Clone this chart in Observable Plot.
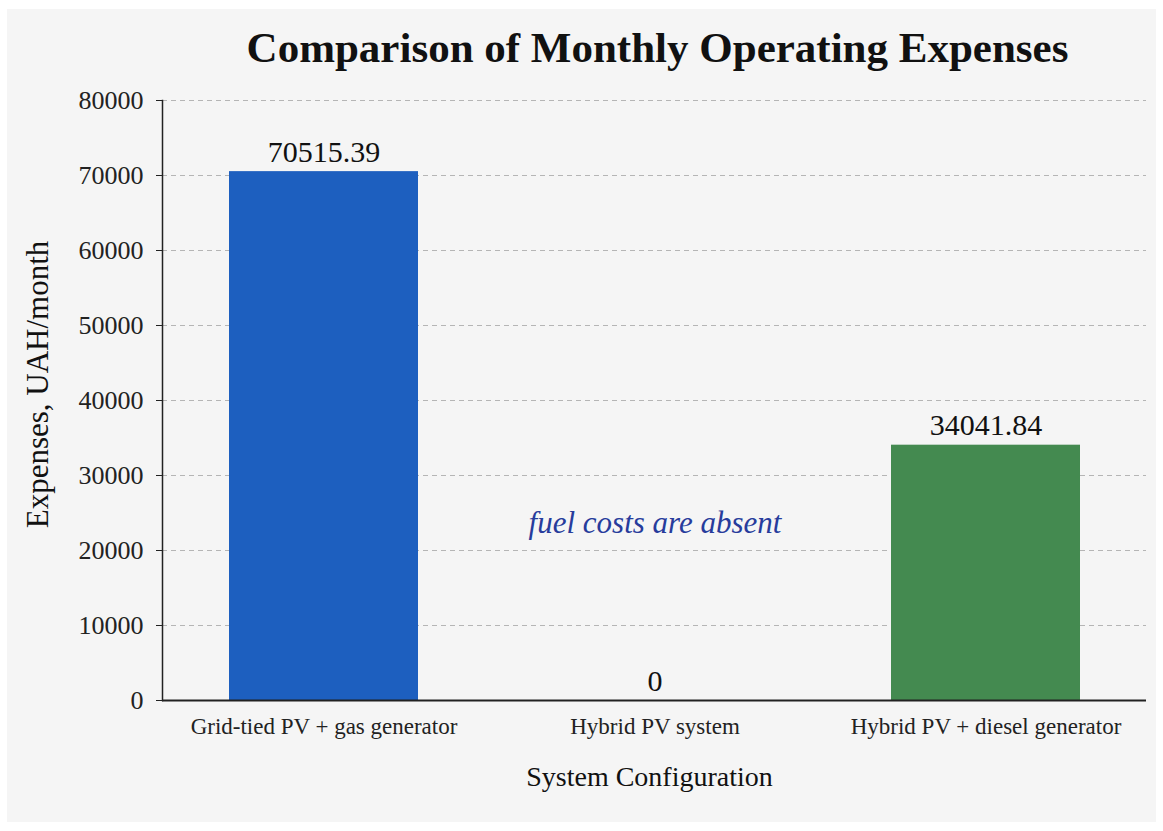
<!DOCTYPE html>
<html>
<head>
<meta charset="utf-8">
<script src="https://cdn.jsdelivr.net/npm/d3@7"></script>
<script src="https://cdn.jsdelivr.net/npm/@observablehq/plot@0.6"></script>
<style>
  html, body { margin: 0; padding: 0; background: #ffffff; }
  #panel { position: absolute; left: 7px; top: 9px; width: 1149px; height: 813px; background: #f5f5f5; overflow: hidden; }
  #title { position: absolute; left: 0; top: 14px; width: 1149px; padding-left: 152px; box-sizing: border-box; text-align: center;
           font-family: "Liberation Serif", serif; font-weight: bold; font-size: 43px; line-height: 50px; color: #111; }
  #chart { position: absolute; left: 0; top: 71px; }
</style>
</head>
<body>
<div id="panel">
  <div id="title">Comparison of Monthly Operating Expenses</div>
  <div id="chart"></div>
</div>
<script>
const categories = ["Grid-tied PV + gas generator", "Hybrid PV system", "Hybrid PV + diesel generator"];
const expenses = [70515.39, 0, 34041.84];
const valueLabels = ["70515.39", "0", "34041.84"];
const barColors = ["#1d5fbf", "#1d5fbf", "#448a50"];
const yTicks = [0, 10000, 20000, 30000, 40000, 50000, 60000, 70000, 80000];
const yLabel = "Expenses, UAH/month";
const xLabel = "System Configuration";
const noteText = ["fuel costs are absent"];
const noteCategory = ["Hybrid PV system"];
const noteValue = [23700];

const data = categories.map((c, i) => ({cat: c, value: expenses[i], label: valueLabels[i]}));
const notes = noteText.map((t, i) => ({text: t, cat: noteCategory[i], value: noteValue[i]}));

const chart = Plot.plot({
  width: 1149,
  height: 740,
  marginTop: 20,
  marginLeft: 155,
  marginRight: 10,
  marginBottom: 120,
  style: {background: "transparent", fontFamily: "'Liberation Serif', serif", color: "#222"},
  x: {domain: categories, paddingInner: 0.43, paddingOuter: 0.2, label: null},
  y: {domain: [0, 80000], label: null},
  color: {domain: categories, range: barColors},
  marks: [
    Plot.gridY(yTicks, {stroke: "#b5b5b5", strokeOpacity: 1, strokeDasharray: "5,4", strokeWidth: 1}),
    Plot.barY(data, {x: "cat", y: "value", fill: "cat"}),
    Plot.ruleY([0], {stroke: "#222", strokeWidth: 1.8}),
    Plot.frame({anchor: "left", stroke: "#222", strokeWidth: 1.5}),
    Plot.axisY(yTicks, {tickSize: 6, tickPadding: 13, fontSize: 26, tickFormat: d3.format("d"), label: null, stroke: "#222", fill: "#222"}),
    Plot.axisX({tickSize: 0, tickPadding: 17, fontSize: 23, label: null, fill: "#222"}),
    Plot.text(data, {x: "cat", y: "value", text: "label", dy: -10, lineAnchor: "bottom", fontSize: 30, fill: "#111"}),
    Plot.text(notes, {x: "cat", y: "value", text: "text", fontSize: 31, fontStyle: "italic", fill: "#273c9c"}),
    Plot.text([yLabel], {frameAnchor: "left", textAnchor: "middle", rotate: -90, dx: -124, dy: -16, fontSize: 31, fill: "#111"}),
    Plot.text([xLabel], {frameAnchor: "bottom", dx: -5, dy: 85, fontSize: 28, fill: "#111"})
  ]
});
document.getElementById("chart").appendChild(chart);
</script>
</body>
</html>
